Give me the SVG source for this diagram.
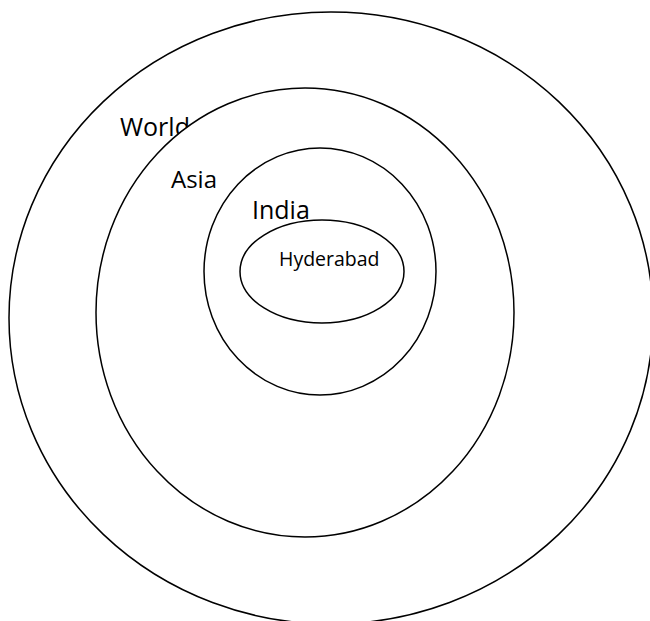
<svg xmlns="http://www.w3.org/2000/svg" width="650" height="621" viewBox="0 0 650 621">
<style>
.shape{fill:#ffffff;stroke:#000000;stroke-width:1.5}
.lbl{font-family:"Open Sans","Liberation Sans",sans-serif;fill:#000000}
</style>
<rect width="650" height="621" fill="#ffffff"/>
<g id="world">
<ellipse class="shape" cx="331" cy="318" rx="322" ry="306"/>
<text class="lbl" x="120" y="136" font-size="25">World</text>
</g>
<g id="asia">
<ellipse class="shape" cx="305" cy="312.5" rx="209" ry="224.5"/>
<text class="lbl" x="171" y="188" font-size="24">Asia</text>
</g>
<g id="india">
<ellipse class="shape" cx="320" cy="271.5" rx="116" ry="123.5"/>
<text class="lbl" x="252" y="219" font-size="25">India</text>
</g>
<g id="hyderabad">
<ellipse class="shape" cx="322" cy="271.5" rx="82" ry="51.5"/>
<text class="lbl" x="279" y="266" font-size="19.5">Hyderabad</text>
</g>
<g id="connectors"/>
</svg>
